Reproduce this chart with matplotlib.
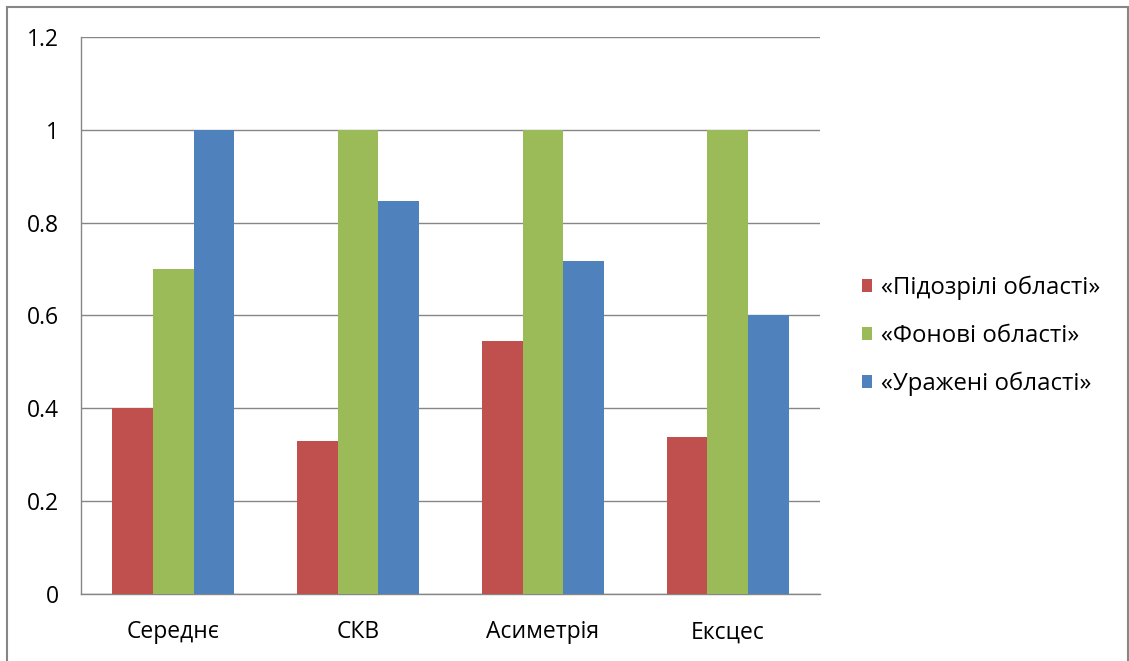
import numpy as np
import matplotlib.pyplot as plt
from matplotlib.patches import Rectangle

categories = ['Середнє', 'СКВ', 'Асиметрія', 'Ексцес']
series_names = ['«Підозрілі області»', '«Фонові області»', '«Уражені області»']
suspicious = [0.40, 0.33, 0.545, 0.338]
background = [0.70, 1.0, 1.0, 1.0]
affected = [1.0, 0.847, 0.717, 0.60]
y_ticks = [0, 0.2, 0.4, 0.6, 0.8, 1, 1.2]
y_tick_labels = ['0', '0.2', '0.4', '0.6', '0.8', '1', '1.2']

colors = ['#c0504d', '#9bbb59', '#4f81bd']

plt.rcParams['font.family'] = ['Open Sans', 'DejaVu Sans']

fig = plt.figure(figsize=(11.29, 6.61), dpi=100)
ax = fig.add_axes([0.0717, 0.1014, 0.6546, 0.8426])

x = np.arange(len(categories))
w = 0.22
for i, (vals, name) in enumerate(zip([suspicious, background, affected], series_names)):
    ax.bar(x + (i - 1) * w, vals, width=w, color=colors[i], label=name, zorder=3)

ax.set_xlim(-0.5, len(categories) - 0.5)
ax.set_ylim(0, 1.2)
ax.set_yticks(y_ticks)
ax.set_yticklabels(y_tick_labels)
ax.set_xticks(x)
ax.set_xticklabels(categories)
ax.tick_params(axis='y', length=0, pad=16, labelsize=16.5)
ax.tick_params(axis='x', length=0, pad=19, labelsize=16.5)
ax.yaxis.grid(True, color='#868686', linewidth=1.0, zorder=0)

for s in ['top', 'right']:
    ax.spines[s].set_visible(False)
for s in ['left', 'bottom']:
    ax.spines[s].set_color('#868686')
    ax.spines[s].set_linewidth(1.0)

leg = ax.legend(loc='center left', bbox_to_anchor=(1.027, 0.463), frameon=False,
                fontsize=17.3, handlelength=0.45, handleheight=0.45,
                handletextpad=0.35, labelspacing=1.0)

# outer chart frame
fig.patches.append(Rectangle((7 / 1129, -0.01), 1121 / 1129, 1 - 7 / 661 + 0.01,
                             transform=fig.transFigure, fill=False,
                             edgecolor='#868686', linewidth=1.5))

fig.savefig('out.png', dpi=100)
